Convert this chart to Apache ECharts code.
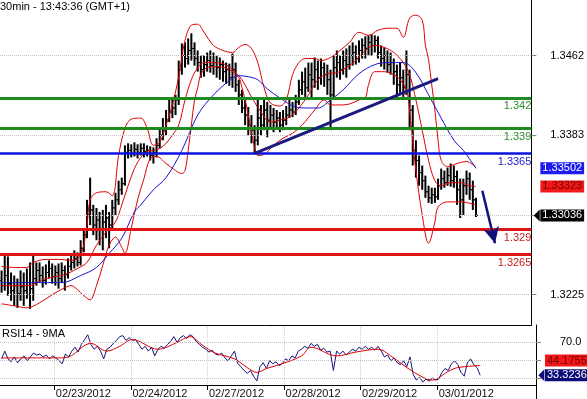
<!DOCTYPE html>
<html><head><meta charset="utf-8">
<script src="https://cdn.jsdelivr.net/npm/echarts@6/dist/echarts.min.js"></script>
<style>html,body{margin:0;padding:0;background:#fff}#c{width:587px;height:399px}</style>
</head><body><div id="c"></div>
<script>
// ---- axis / category data ----
const tradingDays = ['02/22/2012','02/23/2012','02/24/2012','02/27/2012','02/28/2012','02/29/2012','03/01/2012','03/02/2012'];
const dateLabels = ['02/23/2012','02/24/2012','02/27/2012','02/28/2012','02/29/2012','03/01/2012'];
const firstHour = 7;
const slotCount = 168;
const priceTicks = [1.3225, 1.3304, 1.3383, 1.3462];
const priceLabels = [1.3225, 1.3383, 1.3462];
const rsiTicks = [30, 50, 70];
const rsiLabels = [70];

// ---- hourly OHLC bars: [open, close, low, high] ----
const ohlc = [
[1.3239,1.3234,1.3227,1.3249],[1.3234,1.3244,1.3229,1.3264],[1.3244,1.3236,1.3224,1.3263],[1.3236,1.3229,1.3219,1.3247],
[1.3229,1.3234,1.3214,1.3244],[1.3234,1.3226,1.3212,1.3241],[1.3226,1.3233,1.3219,1.3249],[1.3233,1.3229,1.3214,1.3247],
[1.3229,1.3237,1.3221,1.3251],[1.3237,1.3231,1.3211,1.3257],[1.3231,1.3241,1.3219,1.3264],[1.3241,1.3249,1.3234,1.3257],
[1.3249,1.3244,1.3237,1.3257],[1.3244,1.3239,1.3232,1.3253],[1.3239,1.3247,1.3235,1.3255],[1.3247,1.3251,1.3241,1.3259],
[1.3251,1.3243,1.3236,1.3256],[1.3243,1.3247,1.3234,1.3254],[1.3247,1.3241,1.3231,1.3256],[1.3241,1.3249,1.3237,1.3257],
[1.3249,1.3245,1.3229,1.3254],[1.3245,1.3253,1.3241,1.3261],[1.3253,1.3257,1.3249,1.3266],[1.3257,1.3261,1.3251,1.3269],
[1.3261,1.3257,1.3253,1.3267],[1.3257,1.3271,1.3254,1.3279],[1.3271,1.3284,1.3267,1.3291],[1.3284,1.3304,1.3281,1.3319],
[1.3304,1.3309,1.3294,1.3341],[1.3309,1.3294,1.3284,1.3314],[1.3294,1.3299,1.3279,1.3311],[1.3299,1.3289,1.3274,1.3307],
[1.3289,1.3297,1.3269,1.3309],[1.3297,1.3301,1.3281,1.3314],[1.3301,1.3294,1.3271,1.3307],[1.3294,1.3311,1.3291,1.3319],
[1.3311,1.3319,1.3304,1.3326],[1.3319,1.3329,1.3314,1.3338],[1.3329,1.3335,1.3324,1.3341],[1.3335,1.3366,1.3333,1.3373],
[1.3366,1.3368,1.3360,1.3375],[1.3368,1.3365,1.3361,1.3374],[1.3365,1.3369,1.3362,1.3376],[1.3369,1.3366,1.3360,1.3374],
[1.3366,1.3370,1.3363,1.3375],[1.3370,1.3367,1.3361,1.3375],[1.3367,1.3368,1.3362,1.3373],[1.3368,1.3363,1.3358,1.3372],
[1.3363,1.3366,1.3355,1.3371],[1.3366,1.3373,1.3361,1.3380],[1.3373,1.3383,1.3370,1.3391],[1.3383,1.3390,1.3378,1.3400],
[1.3390,1.3398,1.3383,1.3408],[1.3398,1.3406,1.3396,1.3418],[1.3406,1.3410,1.3400,1.3421],[1.3410,1.3418,1.3403,1.3423],
[1.3418,1.3448,1.3413,1.3457],[1.3448,1.3462,1.3443,1.3474],[1.3462,1.3459,1.3450,1.3475],[1.3459,1.3467,1.3453,1.3479],
[1.3467,1.3469,1.3457,1.3484],[1.3469,1.3459,1.3452,1.3475],[1.3459,1.3455,1.3446,1.3467],[1.3455,1.3448,1.3440,1.3462],
[1.3448,1.3453,1.3441,1.3462],[1.3453,1.3457,1.3446,1.3465],[1.3457,1.3452,1.3445,1.3467],[1.3452,1.3455,1.3443,1.3465],
[1.3455,1.3450,1.3440,1.3462],[1.3450,1.3453,1.3438,1.3460],[1.3453,1.3446,1.3436,1.3457],[1.3446,1.3448,1.3434,1.3455],
[1.3448,1.3440,1.3432,1.3454],[1.3440,1.3448,1.3430,1.3464],[1.3448,1.3433,1.3426,1.3455],[1.3433,1.3423,1.3413,1.3438],
[1.3423,1.3410,1.3405,1.3428],[1.3410,1.3403,1.3393,1.3418],[1.3403,1.3393,1.3383,1.3411],[1.3393,1.3388,1.3375,1.3403],
[1.3388,1.3378,1.3365,1.3393],[1.3378,1.3400,1.3373,1.3418],[1.3400,1.3393,1.3383,1.3413],[1.3393,1.3408,1.3388,1.3418],
[1.3408,1.3398,1.3381,1.3416],[1.3398,1.3403,1.3390,1.3413],[1.3403,1.3396,1.3386,1.3410],[1.3396,1.3400,1.3390,1.3408],
[1.3400,1.3393,1.3386,1.3406],[1.3393,1.3398,1.3388,1.3408],[1.3398,1.3403,1.3393,1.3412],[1.3403,1.3408,1.3400,1.3418],
[1.3408,1.3406,1.3401,1.3416],[1.3406,1.3416,1.3403,1.3423],[1.3416,1.3428,1.3413,1.3438],[1.3428,1.3436,1.3423,1.3446],
[1.3436,1.3430,1.3421,1.3450],[1.3430,1.3443,1.3426,1.3455],[1.3443,1.3438,1.3420,1.3455],[1.3438,1.3448,1.3430,1.3460],
[1.3448,1.3440,1.3428,1.3457],[1.3440,1.3450,1.3433,1.3459],[1.3450,1.3443,1.3431,1.3455],[1.3443,1.3438,1.3423,1.3453],
[1.3438,1.3423,1.3388,1.3448],[1.3423,1.3450,1.3418,1.3462],[1.3450,1.3455,1.3440,1.3467],[1.3455,1.3448,1.3438,1.3462],
[1.3448,1.3457,1.3443,1.3467],[1.3457,1.3453,1.3440,1.3469],[1.3453,1.3462,1.3448,1.3472],[1.3462,1.3465,1.3452,1.3475],
[1.3465,1.3459,1.3453,1.3472],[1.3459,1.3467,1.3455,1.3477],[1.3467,1.3472,1.3459,1.3479],[1.3472,1.3469,1.3459,1.3481],
[1.3469,1.3475,1.3462,1.3482],[1.3475,1.3472,1.3462,1.3483],[1.3472,1.3477,1.3465,1.3482],[1.3477,1.3465,1.3459,1.3481],
[1.3465,1.3459,1.3451,1.3472],[1.3459,1.3462,1.3448,1.3470],[1.3462,1.3453,1.3445,1.3467],[1.3453,1.3455,1.3443,1.3465],
[1.3455,1.3446,1.3433,1.3459],[1.3446,1.3433,1.3421,1.3453],[1.3433,1.3440,1.3425,1.3455],[1.3440,1.3430,1.3421,1.3448],
[1.3430,1.3443,1.3423,1.3467],[1.3443,1.3408,1.3388,1.3448],[1.3408,1.3368,1.3353,1.3413],[1.3368,1.3358,1.3341,1.3378],
[1.3358,1.3346,1.3333,1.3363],[1.3346,1.3338,1.3329,1.3353],[1.3338,1.3327,1.3321,1.3343],[1.3327,1.3321,1.3316,1.3333],
[1.3321,1.3324,1.3315,1.3331],[1.3324,1.3322,1.3316,1.3331],[1.3322,1.3333,1.3319,1.3340],[1.3333,1.3340,1.3329,1.3350],
[1.3340,1.3336,1.3331,1.3348],[1.3336,1.3343,1.3333,1.3351],[1.3343,1.3338,1.3332,1.3355],[1.3338,1.3342,1.3331,1.3353],
[1.3342,1.3329,1.3314,1.3348],[1.3329,1.3319,1.3301,1.3340],[1.3319,1.3333,1.3304,1.3340],[1.3333,1.3340,1.3324,1.3348],
[1.3340,1.3329,1.3319,1.3346],[1.3329,1.3319,1.3309,1.3338],[1.3319,1.33036,1.3302,1.3321]
];

// ---- indicator lines: [bar index, value] ----
const bbUpper = [[0,1.3253],[4,1.3252],[8,1.3252],[10,1.3257],[14,1.3260],[18,1.3260],[22,1.3259],[25,1.3264],[27,1.3294],[28,1.3319],[30,1.3326],[33,1.3327],[35,1.3323],[37,1.3363],[39,1.3390],[41,1.3399],[44,1.3400],[46,1.3390],[48,1.3373],[50,1.3376],[52,1.3393],[54,1.3413],[56,1.3441],[58,1.3477],[60,1.3492],[62,1.3493],[64,1.3485],[67,1.3472],[70,1.3467],[73,1.3465],[75,1.3470],[77,1.3473],[79,1.3469],[81,1.3455],[83,1.3430],[85,1.3415],[88,1.3412],[90,1.3418],[92,1.3443],[94,1.3455],[96,1.3459],[99,1.3459],[101,1.3457],[104,1.3460],[107,1.3467],[110,1.3475],[113,1.3485],[116,1.3482],[119,1.3487],[122,1.3489],[125,1.3489],[127,1.3480],[129,1.3499],[131,1.3502],[133,1.3497],[134,1.3472],[135,1.3458],[136,1.3433],[137,1.3408],[138,1.3378],[139,1.3358],[141,1.3352],[144,1.3355],[147,1.3357],[150,1.3351]];
const bbMiddle = [[0,1.3234],[8,1.3234],[14,1.3241],[20,1.3245],[24,1.3251],[27,1.3257],[30,1.3274],[33,1.3287],[36,1.3297],[38,1.3314],[40,1.3333],[42,1.3350],[44,1.3361],[46,1.3367],[48,1.3368],[50,1.3370],[52,1.3375],[54,1.3383],[56,1.3393],[58,1.3418],[60,1.3438],[62,1.3450],[64,1.3455],[67,1.3455],[70,1.3454],[73,1.3448],[76,1.3438],[79,1.3421],[82,1.3406],[85,1.3396],[88,1.3398],[91,1.3401],[94,1.3410],[97,1.3423],[100,1.3438],[103,1.3444],[106,1.3445],[109,1.3450],[112,1.3457],[115,1.3467],[118,1.3472],[121,1.3470],[124,1.3465],[127,1.3455],[129,1.3443],[131,1.3418],[133,1.3388],[135,1.3358],[137,1.3338],[139,1.3333],[142,1.3336],[145,1.3336],[148,1.3333],[150,1.33323]];
const bbLower = [[0,1.3216],[4,1.3214],[8,1.3212],[12,1.3217],[16,1.3225],[20,1.3232],[22,1.3234],[24,1.3230],[26,1.3224],[28,1.3220],[30,1.3234],[32,1.3254],[34,1.3274],[36,1.3282],[38,1.3272],[39,1.3266],[41,1.3291],[43,1.3319],[45,1.3340],[47,1.3360],[49,1.3362],[52,1.3355],[55,1.3348],[57,1.3345],[58,1.3348],[59,1.3368],[60,1.3393],[61,1.3418],[62,1.3430],[63,1.3443],[65,1.3450],[68,1.3451],[72,1.3448],[75,1.3440],[76,1.3430],[77,1.3418],[78,1.3403],[79,1.3386],[80,1.3371],[81,1.3363],[83,1.3364],[86,1.3373],[89,1.3380],[92,1.3385],[95,1.3393],[99,1.3408],[102,1.3418],[104,1.3413],[107,1.3413],[110,1.3414],[113,1.3418],[115,1.3420],[116,1.3433],[118,1.3446],[121,1.3446],[124,1.3443],[126,1.3438],[128,1.3428],[129,1.3408],[130,1.3378],[131,1.3348],[133,1.3304],[135,1.3276],[137,1.3297],[138,1.3312],[141,1.3317],[145,1.3317],[150,1.3314]];
const maLine = [[0,1.3237],[10,1.3237],[19,1.3237],[25,1.3244],[30,1.3252],[34,1.3266],[38,1.3281],[42,1.3307],[44,1.3314],[48,1.3329],[52,1.3341],[57,1.3368],[62,1.3403],[67,1.3423],[72,1.3437],[75,1.3442],[78,1.3441],[81,1.3438],[84,1.3429],[88,1.3420],[93,1.3411],[97,1.3410],[100,1.3410],[104,1.3418],[108,1.3428],[113,1.3444],[118,1.3453],[122,1.3455],[127,1.3455],[131,1.3445],[135,1.3423],[139,1.3400],[143,1.3378],[146,1.3368],[150,1.33502]];
const rsi = [51.6,60.3,51.6,48.4,53.8,47.3,51.6,54.9,49.5,53.8,
 58.1,55.9,57,53.8,55.9,51.6,54.9,52.7,49.5,46.2,
 57,53.8,60.3,64.6,59.2,67.8,73.2,78.6,67.8,62.4,
 65.7,60.3,51.6,62.4,64.6,68.9,72.2,76.5,77.6,72.2,
 75.4,72.2,73.2,67.8,62.4,65.7,60.3,64.6,54.9,62.4,
 65.7,63.5,67.8,71.1,76.5,70,75.4,77.6,74.3,78.6,
 76.5,71.1,67.8,64.6,62.4,59.2,61.3,57,55.9,58.1,
 52.7,49.5,54.9,60.3,46.2,43,38.6,35.4,38.6,32.2,
 26.8,43,47.3,40.8,49.5,46.2,48.4,44.1,46.2,51.6,
 49.5,54.9,52.7,60.3,62.4,65.7,63.5,68.9,65.7,67.8,
 61.3,63.5,59.2,60.3,38.6,60.3,57,60.3,55.9,59.2,
 62.4,60.3,64.6,62.4,65.7,62.4,64.6,61.3,65.7,60.3,
 53.8,55.9,49.5,52.7,47.3,45.1,49.5,43,53.8,34.3,
 27.9,31.1,25.7,28.9,26.8,30,27.9,28.9,36.5,40.8,
 38.6,46.2,49.5,45.1,36.5,32.2,47.3,51.6,45.1,41.9,
 33.3236];
const rsiMA = [[0,52.7],[18,52.7],[21,53.8],[28,68.9],[33,60.3],[37,65.7],[41,73.2],[49,62.4],[55,70],[59,76.5],[63,66.8],[67,58.1],[73,51.6],[77,41.9],[80,36.5],[83,40.8],[88,46.2],[94,54.9],[97,64.6],[105,54.9],[111,59.2],[118,62.4],[122,54.9],[127,41.9],[132,31.1],[135,27.9],[140,37.6],[143,41.9],[150,44.1755]];

// ---- annotations ----
const levels = [1.342, 1.339, 1.3365, 1.329, 1.3265];
const trendline = [[80, 1.3365], [138, 1.3439]];
const arrowPath = [[152, 1.3328], [155.5, 1.3276]];
const lastPrice = 1.33036, lastMA = 1.33502, lastMid = 1.33323;
const lastRsi = 33.3236, lastRsiMA = 44.1755;

// ---- build ----
const categories = [];
for (let d = 0; d < tradingDays.length && categories.length < slotCount; d++) {
  for (let h = (d === 0 ? firstHour : 0); h < 24 && categories.length < slotCount; h++) {
    categories.push(tradingDays[d] + ' ' + String(h).padStart(2, '0') + ':00');
  }
}
const isDayStart = (i) => {
  const c = categories[i];
  return !!c && c.endsWith(' 00:00') && dateLabels.includes(c.slice(0, 10));
};

const FONT = 'Liberation Sans, Arial, sans-serif';
const levelColors = ['#1f8a1f', '#1f8a1f', '#0a14e0', '#e01414', '#e01414'];
const levelText = ['#2a8f2a', '#2a8f2a', '#1a1acc', '#cc1a1a', '#cc1a1a'];
const levelWidth = [3, 3, 2.5, 3, 3];

const noSym = ['none', 'none'];
const ML = (data, extra) => Object.assign({ silent: true, symbol: noSym, animation: false, precision: 8, data: data }, extra || {});
const tag = (val, text, bg, fg, dy) => ({
  yAxis: val,
  lineStyle: { color: 'rgba(0,0,0,0)', width: 0, opacity: 1 },
  label: {
    show: true, position: 'end', distance: 9, formatter: text, opacity: 1,
    backgroundColor: bg, color: fg, fontFamily: FONT, fontSize: 11,
    padding: [1, 2, 0, 2], lineHeight: 11, offset: [0, dy || 0]
  }
});
const tri = (x, val, color) => ({
  coord: [x, val], symbol: 'triangle', symbolRotate: 90, symbolSize: [12, 6],
  symbolOffset: [7, 0], itemStyle: { color: color }, label: { show: false }
});

const chart = echarts.init(document.getElementById('c'), null, { renderer: 'canvas' });
chart.setOption({
  animation: false,
  backgroundColor: '#fff',
  textStyle: { fontFamily: FONT },
  title: [
    { text: '30min - 13:43:36 (GMT+1)', left: 0, top: 1, padding: 0,
      textStyle: { fontSize: 11, fontWeight: 'normal', color: '#000', fontFamily: FONT } },
    { text: 'RSI14 - 9MA', left: 2, top: 328, padding: 0,
      textStyle: { fontSize: 11, fontWeight: 'normal', color: '#000', fontFamily: FONT } }
  ],
  grid: [
    { left: 0, top: 0, width: 536, height: 325 },
    { left: 0, top: 325, width: 536, height: 62 }
  ],
  xAxis: [
    { type: 'category', gridIndex: 0, data: categories, boundaryGap: true,
      axisLine: { show: true, lineStyle: { color: '#000', width: 1 } },
      axisTick: { show: false }, axisLabel: { show: false }, splitLine: { show: false } },
    { type: 'category', gridIndex: 1, data: categories, boundaryGap: true,
      axisLine: { show: true, lineStyle: { color: '#000', width: 1 } },
      axisTick: { show: true, interval: (i) => isDayStart(i), length: 5, lineStyle: { color: '#000' } },
      axisLabel: { show: true, interval: (i) => isDayStart(i), formatter: (v) => v.slice(0, 10),
        align: 'left', margin: 3, fontSize: 11, color: '#111', fontFamily: FONT },
      splitLine: { show: true, interval: (i) => isDayStart(i), lineStyle: { color: '#d0d0d0', type: 'dotted' } } }
  ],
  yAxis: [
    { type: 'value', gridIndex: 0, position: 'right', min: 1.3195, max: 1.3517, scale: true,
      axisLine: { show: true, lineStyle: { color: '#000', width: 1 } },
      axisTick: { show: true, customValues: priceTicks, length: 5, lineStyle: { color: '#888' } },
      axisLabel: { show: true, customValues: priceLabels, formatter: (v) => v.toFixed(4),
        margin: 19, fontSize: 11, color: '#000', fontFamily: FONT },
      splitLine: { show: false } },
    { type: 'value', gridIndex: 1, position: 'right', min: 22.4, max: 89.5,
      axisLine: { show: true, lineStyle: { color: '#000', width: 1 } },
      axisTick: { show: true, customValues: rsiTicks, length: 5, lineStyle: { color: '#888' } },
      axisLabel: { show: true, customValues: rsiLabels, formatter: (v) => v.toFixed(1),
        margin: 24, fontSize: 11, color: '#000', fontFamily: FONT },
      splitLine: { show: false } }
  ],
  graphic: [
    { type: 'line', shape: { x1: 536.5, y1: 387, x2: 536.5, y2: 399 }, style: { stroke: '#000', lineWidth: 1 } }
  ],
  series: [
    // price grid lines (dotted)
    { type: 'line', xAxisIndex: 0, yAxisIndex: 0, data: [], z: 1, silent: true,
      markLine: ML(priceTicks.map(v => ({ yAxis: v })),
        { lineStyle: { color: '#c4c4c4', type: 'dotted', width: 1 }, label: { show: false } }) },
    // OHLC bars
    { type: 'custom', xAxisIndex: 0, yAxisIndex: 0, z: 3, silent: true,
      data: ohlc.map((d, i) => [i, d[0], d[1], d[2], d[3]]),
      encode: { x: 0, y: [1, 2, 3, 4] },
      renderItem: (params, api) => {
        const i = api.value(0);
        const o = api.coord([i, api.value(1)]);
        const c = api.coord([i, api.value(2)]);
        const l = api.coord([i, api.value(3)]);
        const h = api.coord([i, api.value(4)]);
        const x = o[0];
        return { type: 'group', children: [
          { type: 'line', shape: { x1: x, y1: h[1], x2: x, y2: l[1] }, style: { stroke: '#000', lineWidth: 2 } },
          { type: 'line', shape: { x1: x - 2, y1: o[1], x2: x, y2: o[1] }, style: { stroke: '#000', lineWidth: 1 } },
          { type: 'line', shape: { x1: x, y1: c[1], x2: x + 2, y2: c[1] }, style: { stroke: '#000', lineWidth: 1 } }
        ] };
      } },
    // level lines
    { type: 'line', xAxisIndex: 0, yAxisIndex: 0, data: [], z: 2, silent: true,
      markLine: ML(levels.map((v, k) => ({
          yAxis: v,
          lineStyle: { color: levelColors[k], width: levelWidth[k], type: 'solid' },
          label: { show: true, position: 'insideEndBottom', formatter: String(v), distance: [0, 3],
            color: levelText[k], fontSize: 11, fontFamily: FONT }
        }))) },
    // Bollinger bands
    { type: 'line', xAxisIndex: 0, yAxisIndex: 0, data: bbUpper, z: 4, symbol: 'none', smooth: 0.35,
      lineStyle: { color: '#e00000', width: 1 }, silent: true },
    { type: 'line', xAxisIndex: 0, yAxisIndex: 0, data: bbMiddle, z: 4, symbol: 'none', smooth: 0.35,
      lineStyle: { color: '#e00000', width: 1 }, silent: true, clip: false,
      markLine: ML([tag(lastMid, '1.33323', '#f01818', '#7a0000')]) },
    { type: 'line', xAxisIndex: 0, yAxisIndex: 0, data: bbLower, z: 4, symbol: 'none', smooth: 0.35,
      lineStyle: { color: '#e00000', width: 1 }, silent: true, clip: false,
      markLine: ML([tag(lastPrice, '1.33036', '#000000', '#ffffff')]),
      markPoint: { silent: true, animation: false, precision: 8, data: [tri(167, lastPrice, '#000')] } },
    // moving average
    { type: 'line', xAxisIndex: 0, yAxisIndex: 0, data: maLine, z: 4, symbol: 'none', smooth: 0.35,
      lineStyle: { color: '#1414d2', width: 1 }, silent: true, clip: false,
      markLine: ML([tag(lastMA, '1.33502', '#1c1cf0', '#ffffff')]) },
    // trendline + arrow
    { type: 'line', xAxisIndex: 0, yAxisIndex: 0, data: trendline, z: 5, symbol: 'none',
      lineStyle: { color: '#1a1a80', width: 3 }, silent: true,
      markLine: ML([[{ coord: arrowPath[0] }, { coord: arrowPath[1] }]],
        { symbol: ['none', 'arrow'], symbolSize: [12, 16],
          lineStyle: { color: '#10107a', width: 2.5, type: 'solid' }, label: { show: false } }) },
    // RSI grid lines
    { type: 'line', xAxisIndex: 1, yAxisIndex: 1, data: [], z: 1, silent: true,
      markLine: ML(rsiTicks.map(v => ({ yAxis: v })),
        { lineStyle: { color: '#c4c4c4', type: 'dotted', width: 1 }, label: { show: false } }) },
    // RSI
    { type: 'line', xAxisIndex: 1, yAxisIndex: 1, data: rsi, z: 3, symbol: 'none',
      lineStyle: { color: '#14147a', width: 1 }, silent: true, clip: false,
      markLine: ML([tag(lastRsi, '33.3236', '#0c0c78', '#ffffff')]),
      markPoint: { silent: true, animation: false, precision: 8, data: [tri(167, lastRsi, '#0c0c78')] } },
    { type: 'line', xAxisIndex: 1, yAxisIndex: 1, data: rsiMA, z: 4, symbol: 'none', smooth: 0.35,
      lineStyle: { color: '#e00000', width: 1 }, silent: true, clip: false,
      markLine: ML([tag(lastRsiMA, '44.1755', '#f01818', '#7a0000', -5)]) }
  ]
});
</script>
</body></html>
